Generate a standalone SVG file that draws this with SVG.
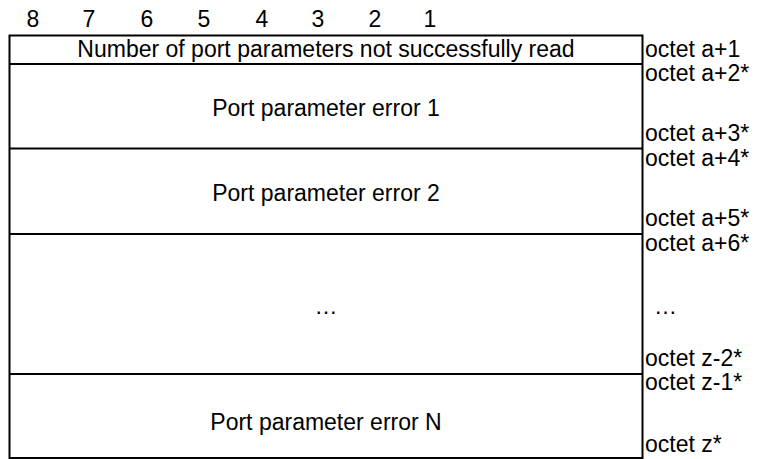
<svg xmlns="http://www.w3.org/2000/svg" width="757" height="459" viewBox="0 0 757 459">
<style>
text{font-family:"Liberation Sans",Arial,sans-serif;font-size:23px;fill:#000}
.c{text-anchor:middle}
.ln{stroke:#000;stroke-width:2;fill:none}
</style>
<rect width="757" height="459" fill="#fff"/>
<g id="bits">
<text class="c" x="33" y="27">8</text>
<text class="c" x="89" y="27">7</text>
<text class="c" x="147" y="27">6</text>
<text class="c" x="204" y="27">5</text>
<text class="c" x="262" y="27">4</text>
<text class="c" x="318" y="27">3</text>
<text class="c" x="375" y="27">2</text>
<text class="c" x="430" y="27">1</text>
</g>
<g id="connectors">
<path class="ln" d="M9.5 35.5H642.5V458H9.5Z"/>
<path class="ln" d="M9.5 64H642.5M9.5 148.5H642.5M9.5 234H642.5M9.5 374H642.5"/>
</g>
<g id="row-count">
<text class="c" x="326" y="57">Number of port parameters not successfully read</text>
<text x="645" y="57">octet a+1</text>
</g>
<g id="row-error1">
<text class="c" x="326" y="116">Port parameter error 1</text>
<text x="645" y="81">octet a+2*</text>
<text x="645" y="141">octet a+3*</text>
</g>
<g id="row-error2">
<text class="c" x="326" y="201">Port parameter error 2</text>
<text x="645" y="166">octet a+4*</text>
<text x="645" y="226">octet a+5*</text>
</g>
<g id="row-dots">
<text class="c" x="326" y="314">…</text>
<text x="645" y="251">octet a+6*</text>
<text x="654" y="314">…</text>
<text x="645" y="366">octet z-2*</text>
</g>
<g id="row-errorN">
<text class="c" x="326" y="430">Port parameter error N</text>
<text x="645" y="390">octet z-1*</text>
<text x="645" y="452">octet z*</text>
</g>
</svg>
